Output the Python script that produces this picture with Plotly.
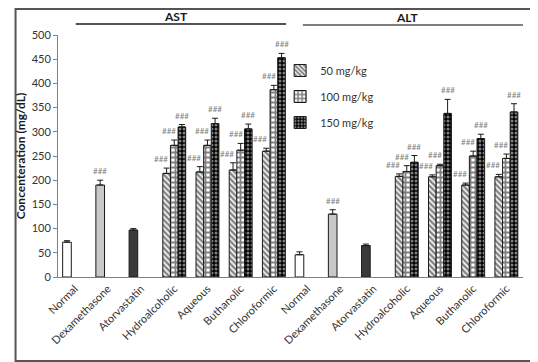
import plotly.graph_objects as go

# ---- data ----
categories = ["Normal", "Dexamethasone", "Atorvastatin", "Hydroalcoholic", "Aqueous", "Buthanolic", "Chloroformic",
              "Normal", "Dexamethasone", "Atorvastatin", "Hydroalcoholic", "Aqueous", "Buthanolic", "Chloroformic"]
groups = ["AST", "ALT"]

control_idx = [0, 1, 2, 7, 8, 9]
control_vals = [72, 190, 97, 46, 130, 65]
control_err = [3, 10, 3, 6, 9, 3]
control_sig = ["", "###", "", "", "###", ""]
control_colors = ["white", "#c8c8c8", "#3a3a3a", "white", "#c8c8c8", "#3a3a3a"]

treat_idx = [3, 4, 5, 6, 10, 11, 12, 13]
dose_names = ["50 mg/kg", "100 mg/kg", "150 mg/kg"]
vals_50 = [214, 217, 221, 260, 208, 207, 190, 207]
err_50 = [11, 11, 15, 6, 5, 4, 4, 5]
vals_100 = [272, 272, 262, 387, 218, 230, 250, 245]
err_100 = [11, 11, 14, 9, 12, 3, 10, 9]
vals_150 = [310, 317, 306, 453, 237, 338, 286, 341]
err_150 = [5, 11, 10, 9, 14, 29, 9, 17]
sig_label = "###"

y_ticks = list(range(0, 501, 50))

# ---- layout geometry (page has an 8px body margin) ----
OFF = 8
L, T, R, B = 52 - OFF, 35 - OFF, 15, 85
FW, FH = 538 - OFF, 362 - OFF
PW = FW - L - R   # plot width in px
PH = FH - T - B   # plot height in px


def px_x(ax):  # absolute page x -> paper
    return (ax - OFF - L) / PW


def px_y(ay):  # absolute page y -> paper
    return (FH - B - (ay - OFF)) / PH


fig = go.Figure()
W = 0.23
line_c = "#1a1a1a"

fig.add_trace(go.Bar(
    x=control_idx, y=control_vals, width=0.26, offset=-0.36,
    marker=dict(color=control_colors, line=dict(color=line_c, width=1)),
    error_y=dict(type="data", array=control_err, arrayminus=[0] * len(control_err), symmetric=False,
                 color=line_c, thickness=1, width=3),
    showlegend=False, hoverinfo="skip"))

patterns = [
    dict(shape="\\", fgcolor="black", bgcolor="white", size=4, solidity=0.6),
    dict(shape="+", fgcolor="black", bgcolor="white", size=5, solidity=0.6),
    dict(shape=".", fgcolor="white", bgcolor="black", size=4, solidity=0.45),
]
series_vals = [vals_50, vals_100, vals_150]
series_err = [err_50, err_100, err_150]
for k in range(3):
    fig.add_trace(go.Bar(
        x=treat_idx, y=series_vals[k], width=W, offset=-1.5 * W + k * W, name=dose_names[k],
        marker=dict(color="white" if k < 2 else "black", pattern=patterns[k], line=dict(color=line_c, width=1)),
        error_y=dict(type="data", array=series_err[k], arrayminus=[0] * len(series_err[k]), symmetric=False,
                     color=line_c, thickness=1, width=3),
        legendgroup=str(k), hoverinfo="skip"))

annots = []
sig_font = dict(family="Lato, Liberation Sans, sans-serif", size=8, color="#808080")
for i, v, e, s in zip(control_idx, control_vals, control_err, control_sig):
    if s:
        annots.append(dict(x=i - 0.23, y=v + e, text=s, showarrow=False, yshift=9,
                           yanchor="middle", xanchor="center", font=sig_font))
xs = [-6, -5, 0]
for k in range(3):
    for i, v, e in zip(treat_idx, series_vals[k], series_err[k]):
        annots.append(dict(x=i + (k - 1) * W, y=v + e, text=sig_label, showarrow=False,
                           yshift=9, xshift=xs[k], yanchor="middle", xanchor="center", font=sig_font))

# group titles
grp_font = dict(family="Lato, Liberation Sans, sans-serif", size=12, color="#1a1a1a")
annots.append(dict(x=px_x(172), y=px_y(16.5), xref="paper", yref="paper", text="<b>" + groups[0] + "</b>",
                   showarrow=False, xanchor="center", yanchor="middle", font=grp_font))
annots.append(dict(x=px_x(406), y=px_y(17), xref="paper", yref="paper", text="<b>" + groups[1] + "</b>",
                   showarrow=False, xanchor="center", yanchor="middle", font=grp_font))

shapes = [
    dict(type="line", xref="paper", yref="paper", x0=px_x(70), x1=px_x(283),
         y0=px_y(24), y1=px_y(24), line=dict(color="#1a1a1a", width=1.5)),
    dict(type="line", xref="paper", yref="paper", x0=px_x(300), x1=px_x(523),
         y0=px_y(25), y1=px_y(25), line=dict(color="#555555", width=1.5)),
    dict(type="rect", xref="paper", yref="paper", x0=px_x(9), x1=px_x(537),
         y0=px_y(361), y1=px_y(9), line=dict(color="#555555", width=2)),
]

fig.update_layout(
    width=FW, height=FH, barmode="overlay",
    margin=dict(l=L, r=R, t=T, b=B),
    paper_bgcolor="white", plot_bgcolor="white",
    font=dict(family="Lato, Liberation Sans, sans-serif", size=11, color="#404040"),
    annotations=annots, shapes=shapes,
    legend=dict(x=px_x(277), y=px_y(56), xanchor="left", yanchor="top",
                font=dict(size=11, color="#333333"), bgcolor="rgba(0,0,0,0)",
                tracegroupgap=7, itemwidth=30),
    xaxis=dict(range=[-0.5, 13.5], tickvals=list(range(len(categories))), ticktext=categories,
               tickangle=-45, showline=True, linecolor="#808080", linewidth=1, ticks="",
               showgrid=False, zeroline=False, tickfont=dict(size=11, color="#333333")),
    yaxis=dict(range=[0, 500], tickvals=y_ticks, showline=True, linecolor="#808080", linewidth=1,
               ticks="outside", ticklen=4, tickcolor="#808080", showgrid=False, zeroline=False,
               title=dict(text="Concenteration (mg/dL)", standoff=3,
                          font=dict(size=12, color="#1a1a1a", weight="bold")),
               tickfont=dict(size=11, color="#333333")),
)

fig.write_html("out.html")
